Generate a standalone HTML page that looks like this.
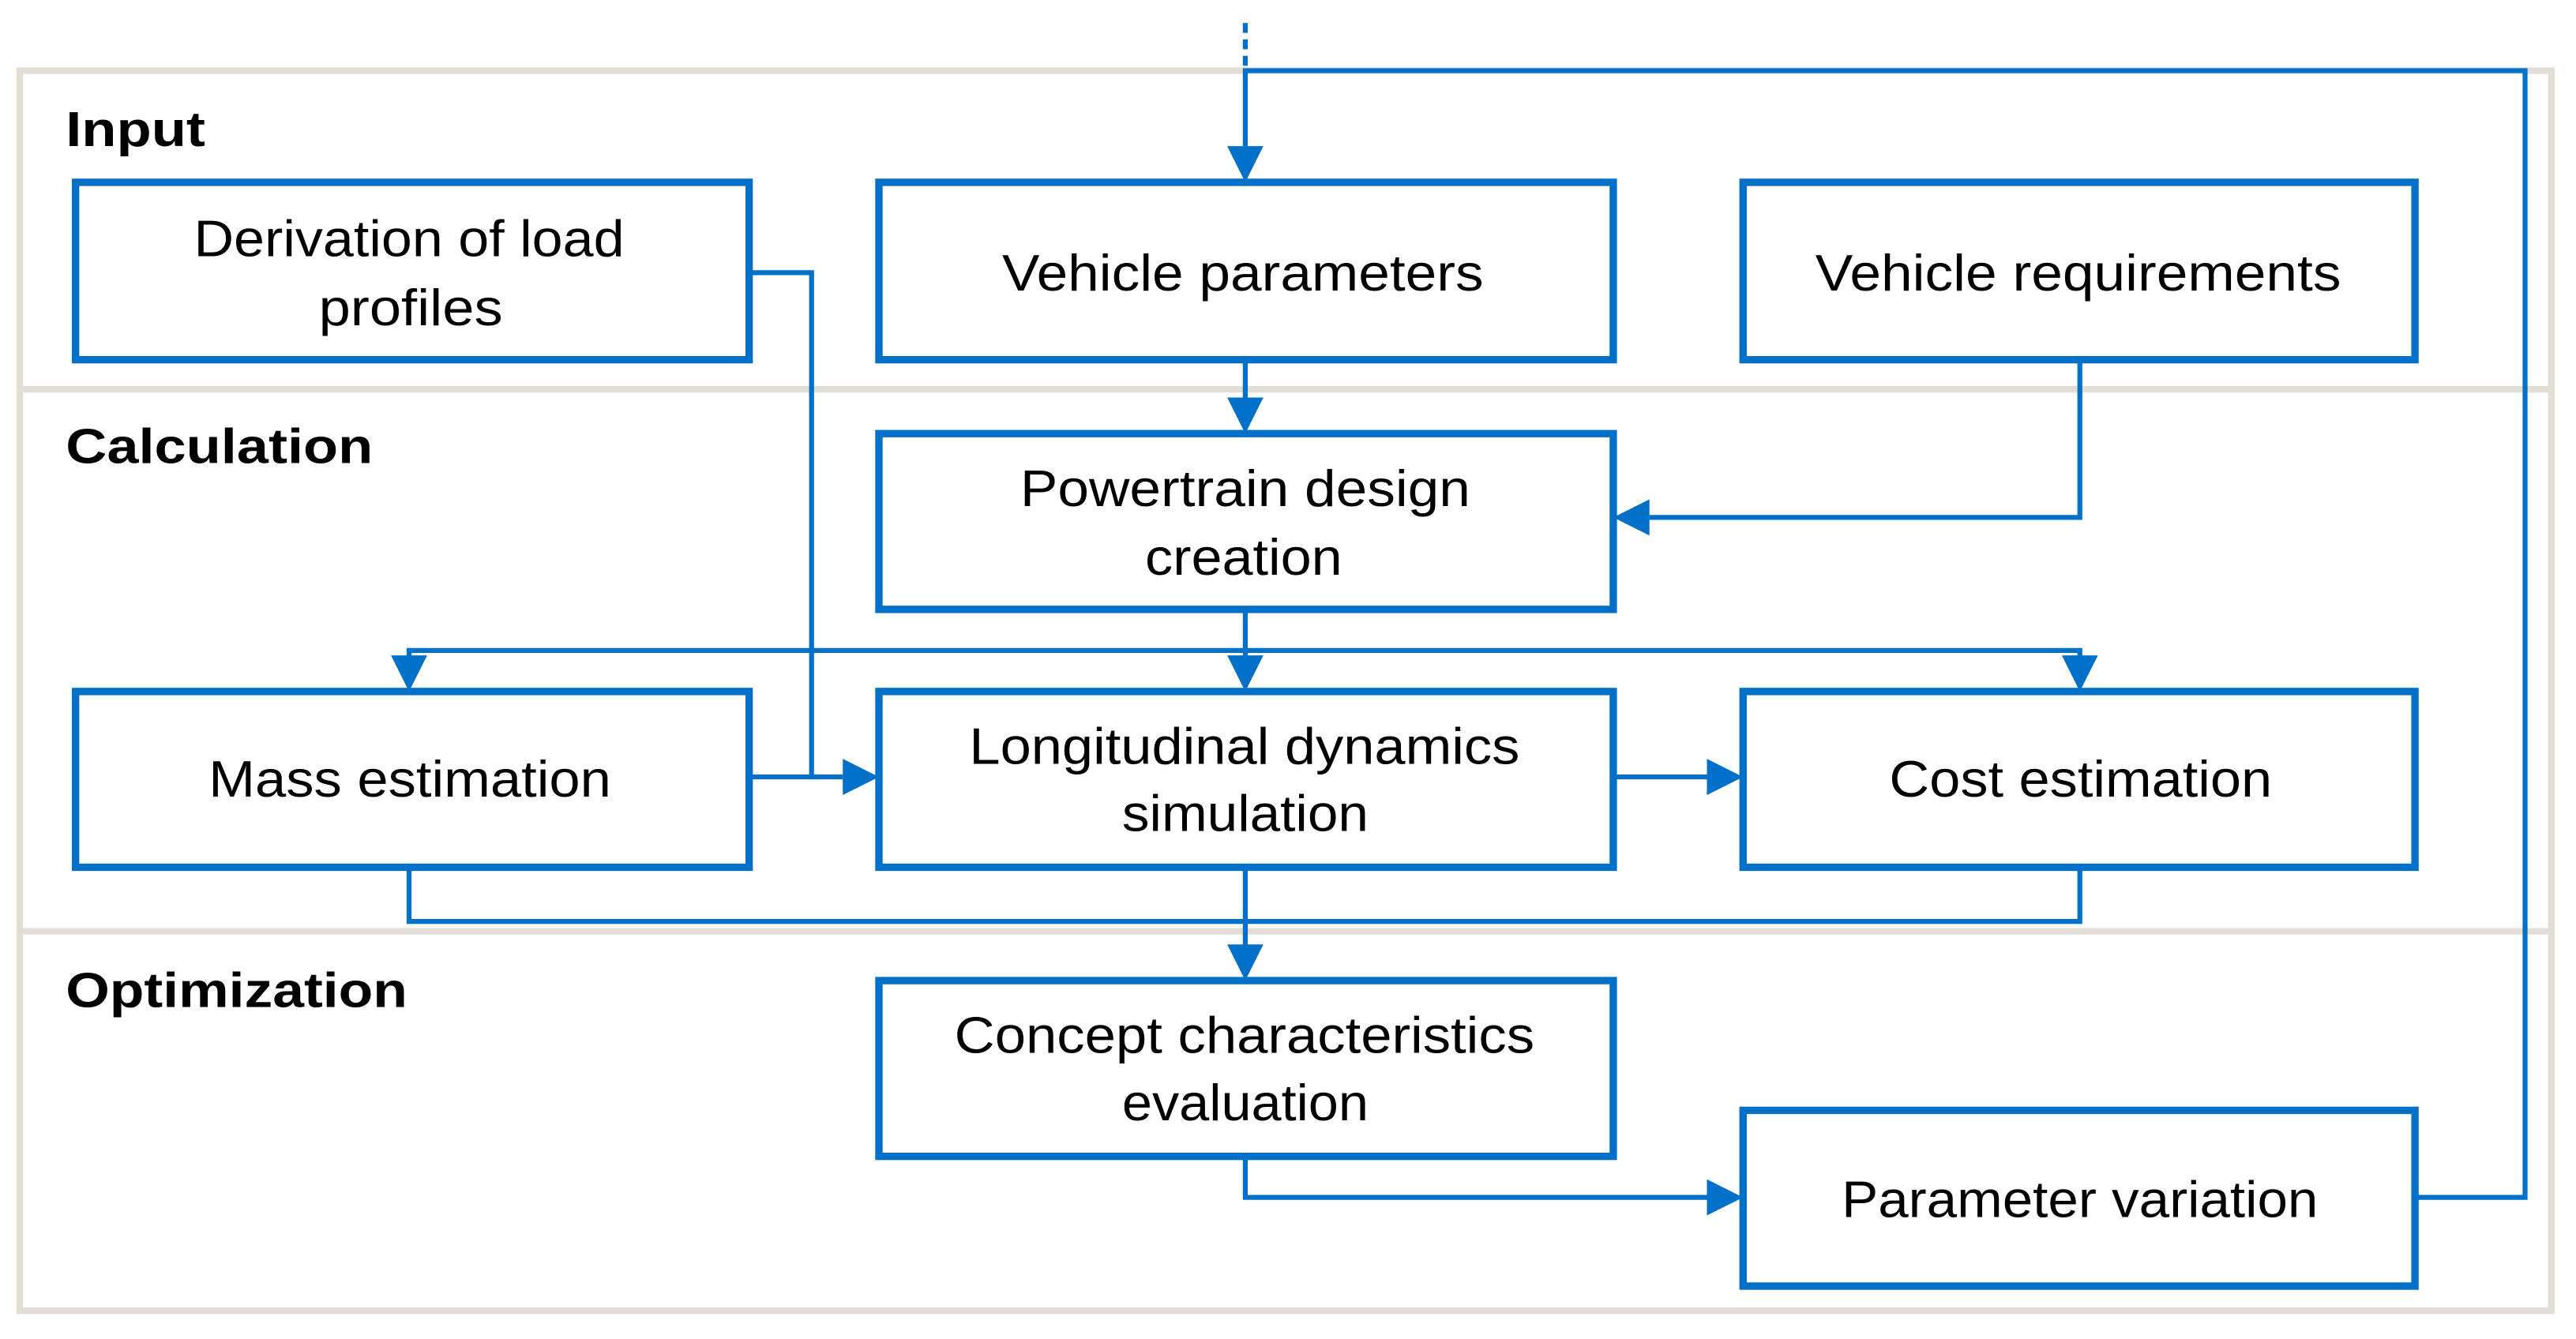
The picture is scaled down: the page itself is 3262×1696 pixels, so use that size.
<!DOCTYPE html>
<html><head><meta charset="utf-8"><style>
html,body{margin:0;padding:0;background:#fff;}
svg{display:block;}
text{font-family:"Liberation Sans",Arial,sans-serif;fill:#000;}
</style></head><body>
<svg width="3262" height="1696" viewBox="0 0 1568 815.2" preserveAspectRatio="none" xmlns="http://www.w3.org/2000/svg">
<defs>
<marker id="a" markerWidth="10" markerHeight="10" refX="10" refY="5" orient="auto" markerUnits="userSpaceOnUse" viewBox="0 0 10 10">
<path d="M0,0 L10,5 L0,10 z" fill="#0070c8"/>
</marker>
</defs>
<style>
.ar{marker-end:url(#a);}
</style>
<!-- frame -->
<rect x="12" y="43" width="1541" height="755" fill="none" stroke="#e2ded5" stroke-width="4"/>
<line x1="12" y1="237" x2="1553" y2="237" stroke="#e2ded5" stroke-width="4"/>
<line x1="12" y1="567" x2="1553" y2="567" stroke="#e2ded5" stroke-width="4"/>
<text x="40" y="89" font-size="30" font-weight="bold" textLength="85" lengthAdjust="spacingAndGlyphs">Input</text>
<text x="40" y="282" font-size="30" font-weight="bold" textLength="187" lengthAdjust="spacingAndGlyphs">Calculation</text>
<text x="40" y="613" font-size="30" font-weight="bold" textLength="208" lengthAdjust="spacingAndGlyphs">Optimization</text>

<g fill="none" stroke="#0070c8" stroke-width="3">
<line x1="758" y1="14" x2="758" y2="43" stroke-dasharray="6,4"/>
<path d="M1470,729 H1537 V43 H758 V89"/>
<line x1="758" y1="219" x2="758" y2="243"/>
<path d="M1266,219 V315 H1004"/>
<line x1="758" y1="371" x2="758" y2="400"/>
<path d="M249,400 V396 H1266 V400"/>
<line x1="249" y1="396" x2="249" y2="400"/>
<path d="M456,166 H494 V473"/>
<line x1="456" y1="473" x2="513" y2="473"/>
<line x1="982" y1="473" x2="1039" y2="473"/>
<path d="M249,528 V561 H1266 V528"/>
<line x1="758" y1="528" x2="758" y2="576"/>
<path d="M758,704 V729 H1039"/>
</g>
<g fill="#0070c8">
<path d="M747,89 L769,89 L758,111 z"/>
<path d="M747,242 L769,242 L758,264 z"/>
<path d="M1004,304 L1004,326 L982,315 z"/>
<path d="M747,399 L769,399 L758,421 z"/>
<path d="M238,399 L260,399 L249,421 z"/>
<path d="M1255,399 L1277,399 L1266,421 z"/>
<path d="M513,462 L513,484 L535,473 z"/>
<path d="M1039,462 L1039,484 L1061,473 z"/>
<path d="M747,575 L769,575 L758,597 z"/>
<path d="M1039,718 L1039,740 L1061,729 z"/>
</g>

<g fill="#fff" stroke="#0070c8" stroke-width="4.5">
<rect x="46" y="111" width="410" height="108"/>
<rect x="535" y="111" width="447" height="108"/>
<rect x="1061" y="111" width="409" height="108"/>
<rect x="535" y="264" width="447" height="107"/>
<rect x="46" y="421" width="410" height="107"/>
<rect x="535" y="421" width="447" height="107"/>
<rect x="1061" y="421" width="409" height="107"/>
<rect x="535" y="597" width="447" height="107"/>
<rect x="1061" y="676" width="409" height="107"/>
</g>

<g font-size="31" lengthAdjust="spacingAndGlyphs">
<text x="118" y="156" textLength="262" lengthAdjust="spacingAndGlyphs">Derivation of load</text>
<text x="194" y="198" textLength="112" lengthAdjust="spacingAndGlyphs">profiles</text>
<text x="610" y="177" textLength="293" lengthAdjust="spacingAndGlyphs">Vehicle parameters</text>
<text x="1105" y="177" textLength="320" lengthAdjust="spacingAndGlyphs">Vehicle requirements</text>
<text x="621" y="308" textLength="274" lengthAdjust="spacingAndGlyphs">Powertrain design</text>
<text x="697" y="350" textLength="120" lengthAdjust="spacingAndGlyphs">creation</text>
<text x="127" y="485" textLength="245" lengthAdjust="spacingAndGlyphs">Mass estimation</text>
<text x="590" y="465" textLength="335" lengthAdjust="spacingAndGlyphs">Longitudinal dynamics</text>
<text x="683" y="506" textLength="150" lengthAdjust="spacingAndGlyphs">simulation</text>
<text x="1150" y="485" textLength="233" lengthAdjust="spacingAndGlyphs">Cost estimation</text>
<text x="581" y="641" textLength="353" lengthAdjust="spacingAndGlyphs">Concept characteristics</text>
<text x="683" y="682" textLength="150" lengthAdjust="spacingAndGlyphs">evaluation</text>
<text x="1121" y="741" textLength="290" lengthAdjust="spacingAndGlyphs">Parameter variation</text>
</g>
</svg>
</body></html>
